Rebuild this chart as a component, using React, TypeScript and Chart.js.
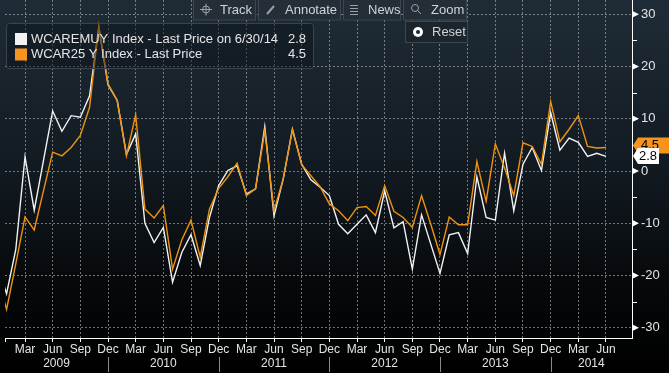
import React, { useEffect, useRef } from "react";
import { Chart, registerables } from "chart.js";

Chart.register(...registerables);

// ---- data ----
const months = [
  "Dec 2008",
  "Jan 2009", "Feb 2009", "Mar 2009", "Apr 2009", "May 2009", "Jun 2009",
  "Jul 2009", "Aug 2009", "Sep 2009", "Oct 2009", "Nov 2009", "Dec 2009",
  "Jan 2010", "Feb 2010", "Mar 2010", "Apr 2010", "May 2010", "Jun 2010",
  "Jul 2010", "Aug 2010", "Sep 2010", "Oct 2010", "Nov 2010", "Dec 2010",
  "Jan 2011", "Feb 2011", "Mar 2011", "Apr 2011", "May 2011", "Jun 2011",
  "Jul 2011", "Aug 2011", "Sep 2011", "Oct 2011", "Nov 2011", "Dec 2011",
  "Jan 2012", "Feb 2012", "Mar 2012", "Apr 2012", "May 2012", "Jun 2012",
  "Jul 2012", "Aug 2012", "Sep 2012", "Oct 2012", "Nov 2012", "Dec 2012",
  "Jan 2013", "Feb 2013", "Mar 2013", "Apr 2013", "May 2013", "Jun 2013",
  "Jul 2013", "Aug 2013", "Sep 2013", "Oct 2013", "Nov 2013", "Dec 2013",
  "Jan 2014", "Feb 2014", "Mar 2014", "Apr 2014", "May 2014", "Jun 2014",
];

const wcaremuy = [
  -18,
  -23.5, -15, 2.7, -7.5, 2, 11.5, 7.6, 10.6, 10.3, 14.4, 27.5, 16.5,
  13.5, 3.2, 7.1, -10.0, -13.7, -10.8, -21.3, -15.6, -12.2, -18.1, -8.9, -2.8,
  0.1, 1.0, -4.4, -3.4, 8.5, -8.6, -1.5, 8.0, 1.3, -1.7, -3.1, -4.7,
  -10.2, -12.0, -10.2, -8.4, -11.8, -3.8, -10.9, -9.7, -18.8, -8.4, -14.0, -19.6,
  -12.2, -11.8, -15.8, -1.1, -8.9, -9.4, 3.4, -7.6, 1.3, 4.5, 0.1, 11.2,
  4.0, 6.3, 5.5, 2.8, 3.4, 2.8,
];

const wcar25 = [
  -20,
  -26.5, -17.8, -8.8, -11.3, -3.8, 3.6, 2.9, 4.5, 6.8, 12.2, 27.8, 16.7,
  13.5, 2.9, 10.8, -7.3, -9.0, -6.6, -18.8, -13.2, -9.4, -16.5, -7.3, -3.3,
  -1.1, 1.5, -4.7, -3.4, 7.7, -7.6, -1.5, 7.9, 1.2, -0.9, -3.0, -6.3,
  -7.6, -9.5, -7.0, -6.8, -8.5, -2.8, -7.7, -8.9, -10.8, -4.7, -10.2, -16.0,
  -8.8, -10.3, -10.3, 1.8, -5.8, 5.2, 0.6, -4.7, 5.4, 4.7, 1.3, 13.3,
  5.6, 8.0, 10.6, 4.7, 4.4, 4.5,
];

const quarterMonths = ["Mar", "Jun", "Sep", "Dec"];
const yearLabels = ["2009", "2010", "2011", "2012", "2013", "2014"];
const yTicks = [-30, -20, -10, 0, 10, 20, 30];
const yMinorTicks = [-25, -15, -5, 5, 15, 25];
const seriesNames = [
  "WCAREMUY Index - Last Price on 6/30/14",
  "WCAR25 Y Index - Last Price",
];
const lastValues = ["2.8", "4.5"];
const toolbarButtons = ["Track", "Annotate", "News", "Zoom"];

// ---- style ----
const FONT = "'Liberation Sans', Arial, sans-serif";
const WHITE = "#f2f2f2";
const ORANGE = "#ee9310";
const ORANGE_FILL = "#f7941d";
const TEXT = "#e4e4e4";

const X_MIN = -0.17;
const X_MAX = 67.82;

// x value: Jan 2009 = 0
const xOf = (k: number) => k - 1;

const whitePts = wcaremuy.map((v, k) => ({ x: xOf(k), y: v }));
const orangePts = wcar25.map((v, k) => ({ x: xOf(k), y: v }));

const quarterTicks = months
  .map((m, k) => ({ m, x: xOf(k) }))
  .filter((o) => quarterMonths.includes(o.m.split(" ")[0]) && o.x >= X_MIN && o.x <= X_MAX)
  .map((o) => ({ value: o.x }));

const bgPlugin = {
  id: "bgGrad",
  beforeDraw(chart: any) {
    const { ctx, width, height } = chart;
    const g = ctx.createLinearGradient(0, 0, 0, height);
    g.addColorStop(0, "#1f2c37");
    g.addColorStop(0.45, "#121a21");
    g.addColorStop(0.82, "#040607");
    g.addColorStop(1, "#000000");
    ctx.save();
    ctx.fillStyle = g;
    ctx.fillRect(0, 0, width, height);
    ctx.restore();
  },
};

function tagShape(ctx: any, tipX: number, cy: number, x0: number, x1: number, h: number) {
  ctx.beginPath();
  ctx.moveTo(tipX, cy);
  ctx.lineTo(x0, cy - h / 2);
  ctx.lineTo(x1, cy - h / 2);
  ctx.lineTo(x1, cy + h / 2);
  ctx.lineTo(x0, cy + h / 2);
  ctx.closePath();
}

const overlayPlugin = {
  id: "overlay",
  afterDraw(chart: any) {
    const { ctx, chartArea } = chart;
    const xs = chart.scales.x;
    const ys = chart.scales.y;
    const right = chartArea.right;
    ctx.save();

    // y axis line + markers
    ctx.strokeStyle = "#ffffff";
    ctx.lineWidth = 1;
    ctx.beginPath();
    ctx.moveTo(right + 0.5, 0);
    ctx.lineTo(right + 0.5, chartArea.bottom + 0.5);
    ctx.stroke();
    // left edge tick
    ctx.beginPath();
    ctx.moveTo(chartArea.left + 0.5, chartArea.bottom);
    ctx.lineTo(chartArea.left + 0.5, chartArea.bottom + 4);
    ctx.stroke();
    ctx.fillStyle = "#ffffff";
    yTicks.forEach((v) => {
      const y = ys.getPixelForValue(v);
      ctx.beginPath();
      ctx.moveTo(right + 1, y - 3);
      ctx.lineTo(right + 7, y);
      ctx.lineTo(right + 1, y + 3);
      ctx.closePath();
      ctx.fill();
    });
    yMinorTicks.forEach((v) => {
      const y = Math.round(ys.getPixelForValue(v)) + 0.5;
      ctx.beginPath();
      ctx.moveTo(right, y);
      ctx.lineTo(right + 5, y);
      ctx.stroke();
    });

    // year labels and separators
    const decX = months
      .map((m, k) => ({ m, x: xOf(k) }))
      .filter((o) => o.m.startsWith("Dec") && o.x >= X_MIN && o.x <= X_MAX)
      .map((o) => xs.getPixelForValue(o.x));
    ctx.font = `12px ${FONT}`;
    ctx.fillStyle = TEXT;
    ctx.textAlign = "center";
    ctx.textBaseline = "middle";
    const bounds = [chartArea.left, ...decX, right];
    yearLabels.forEach((yl, i) => {
      const a = bounds[i];
      const b = bounds[i + 1];
      ctx.fillText(yl, (a + b) / 2, 364);
    });
    ctx.strokeStyle = "#8a8a8a";
    decX.forEach((px: number) => {
      ctx.beginPath();
      ctx.moveTo(Math.round(px) + 0.5, 357);
      ctx.lineTo(Math.round(px) + 0.5, 372);
      ctx.stroke();
    });

    // legend
    ctx.fillStyle = "rgba(12,18,24,0.45)";
    ctx.strokeStyle = "#3a444d";
    ctx.beginPath();
    ctx.roundRect(6.5, 23.5, 307, 45, 3);
    ctx.fill();
    ctx.stroke();
    const legendColors = [WHITE, ORANGE_FILL];
    ctx.font = `13px ${FONT}`;
    ctx.textBaseline = "middle";
    seriesNames.forEach((name, i) => {
      const cy = 39 + i * 15.5;
      ctx.fillStyle = legendColors[i];
      ctx.fillRect(15, cy - 6, 12, 12);
      ctx.fillStyle = TEXT;
      ctx.textAlign = "left";
      ctx.fillText(name, 31, cy);
      ctx.textAlign = "right";
      ctx.fillText(lastValues[i], 306, cy);
    });

    // toolbar
    const bx = [
      [193, 256, 220],
      [258, 341, 285],
      [343, 401, 368],
      [403, 467, 431],
    ];
    toolbarButtons.forEach((lbl, i) => {
      const [x0, x1, tx] = bx[i];
      ctx.fillStyle = "#242e37";
      ctx.fillRect(x0, 0, x1 - x0, 20);
      ctx.strokeStyle = "#3c4751";
      ctx.strokeRect(x0 + 0.5, -1, x1 - x0 - 1, 21);
      ctx.fillStyle = "#cfd3d6";
      ctx.textAlign = "left";
      ctx.fillText(lbl, tx, 10);
    });
    ctx.strokeStyle = "#9aa1a7";
    ctx.lineWidth = 1;
    ctx.beginPath();
    ctx.arc(206, 9.5, 3.5, 0, Math.PI * 2);
    ctx.moveTo(200, 9.5); ctx.lineTo(212, 9.5);
    ctx.moveTo(206, 3.5); ctx.lineTo(206, 15.5);
    ctx.stroke();
    ctx.lineWidth = 2;
    ctx.beginPath();
    ctx.moveTo(267, 14); ctx.lineTo(274, 6);
    ctx.stroke();
    ctx.lineWidth = 1;
    for (let k = 0; k < 4; k++) {
      ctx.beginPath();
      ctx.moveTo(350, 5.5 + k * 3); ctx.lineTo(358, 5.5 + k * 3);
      ctx.stroke();
    }
    ctx.beginPath();
    ctx.arc(415, 8, 3.5, 0, Math.PI * 2);
    ctx.moveTo(417.5, 10.5); ctx.lineTo(421, 14);
    ctx.stroke();

    // reset button
    ctx.fillStyle = "#1d252c";
    ctx.fillRect(405, 21, 63, 22);
    ctx.strokeStyle = "#3c4751";
    ctx.strokeRect(405.5, 21.5, 62, 21);
    ctx.fillStyle = "#ffffff";
    ctx.beginPath();
    ctx.arc(418, 32, 5, 0, Math.PI * 2);
    ctx.fill();
    ctx.fillStyle = "#1d252c";
    ctx.beginPath();
    ctx.arc(418, 32, 2, 0, Math.PI * 2);
    ctx.fill();
    ctx.fillStyle = "#cfd3d6";
    ctx.textAlign = "left";
    ctx.fillText("Reset", 432, 32);

    // last value tags
    const yo = ys.getPixelForValue(Number(lastValues[1])) - 2;
    ctx.fillStyle = ORANGE_FILL;
    tagShape(ctx, right + 1, yo, right + 6, 669, 16);
    ctx.fill();
    ctx.fillStyle = "#000";
    ctx.textAlign = "center";
    ctx.fillText(lastValues[1], 650, yo);
    const yw = ys.getPixelForValue(Number(lastValues[0])) - 0.5;
    ctx.fillStyle = "#ffffff";
    tagShape(ctx, right + 1, yw, right + 6, 659, 16);
    ctx.fill();
    ctx.fillStyle = "#000";
    ctx.fillText(lastValues[0], 648, yw + 0.5);

    ctx.restore();
  },
};

export default function App() {
  const ref = useRef<HTMLCanvasElement | null>(null);
  useEffect(() => {
    if (!ref.current) return;
    Chart.defaults.font.family = FONT;
    const chart = new Chart(ref.current, {
      type: "line",
      data: {
        datasets: [
          {
            label: seriesNames[0],
            data: whitePts,
            borderColor: WHITE,
            borderWidth: 1.4,
            pointRadius: 0,
            tension: 0,
            order: 2,
          },
          {
            label: seriesNames[1],
            data: orangePts,
            borderColor: ORANGE,
            borderWidth: 1.4,
            pointRadius: 0,
            tension: 0,
            order: 1,
          },
        ],
      },
      options: {
        responsive: false,
        animation: false,
        events: [],
        layout: { padding: { left: 5, top: 0, right: 0, bottom: 0 } },
        plugins: { legend: { display: false }, tooltip: { enabled: false } },
        scales: {
          x: {
            type: "linear",
            position: "bottom",
            min: X_MIN,
            max: X_MAX,
            afterFit: (s: any) => {
              s.height = 35;
              s.paddingLeft = 0;
              s.paddingRight = 0;
            },
            afterBuildTicks: (s: any) => {
              s.ticks = quarterTicks.map((t) => ({ value: t.value }));
            },
            ticks: {
              color: TEXT,
              font: { size: 12, family: FONT },
              padding: 0,
              maxRotation: 0,
              autoSkip: false,
              callback: (v: any) => months[Number(v) + 1].split(" ")[0],
            },
            grid: {
              color: "rgba(185,185,185,0.6)",
              lineWidth: 1,
              tickLength: 4,
              tickColor: "#ffffff",
              tickBorderDash: [],
            },
            border: { display: true, color: "#ffffff", width: 1, dash: [2, 2] },
          },
          y: {
            type: "linear",
            position: "right",
            min: -31.98,
            max: 32.75,
            afterFit: (s: any) => {
              s.width = 37;
              s.paddingTop = 0;
              s.paddingBottom = 0;
            },
            afterBuildTicks: (s: any) => {
              s.ticks = yTicks.map((v) => ({ value: v }));
            },
            ticks: {
              color: TEXT,
              font: { size: 13, family: FONT },
              padding: 9,
              callback: (v: any) => String(v),
            },
            grid: {
              color: "rgba(185,185,185,0.6)",
              lineWidth: 1,
              drawTicks: false,
            },
            border: { display: false, dash: [2, 2] },
          },
        },
      },
      plugins: [bgPlugin, overlayPlugin],
    });
    return () => chart.destroy();
  }, []);
  return (
    <div style={{ position: "absolute", left: 0, top: 0, width: 669, height: 373 }}>
      <canvas ref={ref} width={669} height={373} />
    </div>
  );
}
